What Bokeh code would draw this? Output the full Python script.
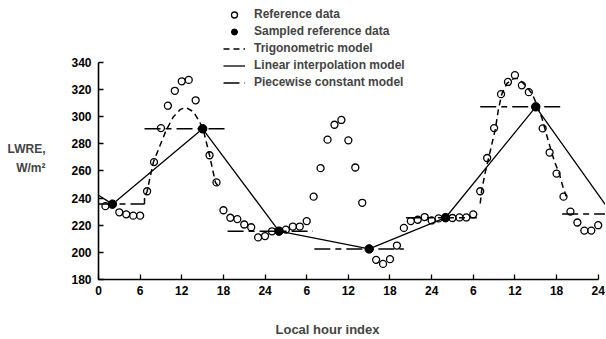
from bokeh.plotting import figure
from bokeh.models import Range1d, FixedTicker, Legend, LegendItem, Title
from bokeh.embed import file_html
from bokeh.resources import INLINE

# ---------------- data ----------------
# Reference data, one value per local hour over three days (hour index 1..72)
ref_hour = list(range(1, 73))
ref_lwre = [234, 235.5, 229.5, 228, 227, 227, 245, 266.5, 291.5, 308, 319, 326,
            327, 312, 291, 271.5, 251.5, 231, 225.5, 224.5, 220.5, 218.5, 211, 212,
            215.5, 215.6, 216.7, 219, 219, 223, 241, 262, 283, 294, 297.5, 282.5,
            262.5, 236.5, 202.5, 194.5, 191.5, 195, 205, 218, 223, 224, 226, 223.5,
            225, 225.7, 225.3, 225.7, 225.7, 228, 245, 269.5, 291.5, 316.5, 325.5, 330.5,
            323, 318, 307.2, 291.3, 273.5, 258, 241, 230, 222, 216, 216, 220]

# Sampled reference data
sample_hour = [2, 15, 26, 39, 50, 63]
sample_lwre = [235.5, 291, 215.6, 202.5, 225.5, 307.2]

# Trigonometric model (day-time parts, day 1 and day 3)
trig1_hour = [6.63, 6.63, 7.0, 7.45, 7.93, 9.75, 10.8, 11.8, 12.6, 13.7, 14.55, 15.05,
              16.0, 16.85, 17.5]
trig1_lwre = [235.6, 241, 244.8, 255.8, 266.8, 290, 299.9, 305.3, 306.7, 303.5, 296.2, 291.3,
              271.5, 251.4, 247.3]
trig3_hour = [55.0, 55.2, 55.7, 56.2, 56.7, 57.2, 57.6, 58.1, 58.85, 59.8, 60.5, 61.5,
              62.45, 63.3, 63.9, 64.3, 64.85, 65.3, 65.8, 66.4, 66.9, 67.4]
trig3_lwre = [236, 245.3, 258.3, 269.3, 280.3, 291.3, 304.8, 316.5, 324.4, 328, 328, 323,
              317, 307.2, 298.7, 291.3, 281.5, 273.4, 265.6, 257.8, 248.5, 241.2]

# Linear interpolation model: start value, samples, next sample (beyond the axis)
lin_start = (0, 242)
lin_next = (74, 228.2)
lin_hour = [lin_start[0]] + sample_hour + [lin_next[0]]
lin_lwre = [lin_start[1]] + sample_lwre + [lin_next[1]]

# Piecewise constant model
pc_start = [0, 6.63, 18.6, 31.1, 44.3, 55.0, 66.8]
pc_end = [6.63, 18.4, 30.9, 44.0, 54.5, 66.8, 74.0]
pc_lwre = [235.7, 291, 215.5, 202.5, 225.5, 307.2, 228.2]

# Axes
x_ticks = [0, 6, 12, 18, 24, 30, 36, 42, 48, 54, 60, 66, 72]
x_labels = ["0", "6", "12", "18", "24", "6", "12", "18", "24", "6", "12", "18", "24"]
y_ticks = [180, 200, 220, 240, 260, 280, 300, 320, 340]

FONT = "Liberation Sans"

# ---------------- figure ----------------
p = figure(width=605, height=338, output_backend="svg", toolbar_location=None,
           x_range=Range1d(0, 73.05), y_range=Range1d(180, 385.5),
           min_border_left=98, min_border_right=0, min_border_top=0,
           min_border_bottom=58)
p.outline_line_color = None
p.grid.visible = False
p.background_fill_color = "white"
p.border_fill_color = "white"

for ax in (p.xaxis[0], p.yaxis[0]):
    ax.axis_line_color = "black"
    ax.axis_line_width = 1.6
    ax.major_tick_in = 5
    ax.major_tick_out = 0
    ax.major_tick_line_width = 1.3
    ax.minor_tick_line_color = None
    ax.major_label_text_font = FONT
    ax.major_label_text_font_style = "bold"
    ax.major_label_text_font_size = "12px"
    ax.major_label_text_color = "black"

p.xaxis.ticker = FixedTicker(ticks=x_ticks)
p.xaxis.major_label_overrides = {t: s for t, s in zip(x_ticks, x_labels)}
p.xaxis.bounds = (x_ticks[0], x_ticks[-1])
p.xaxis.major_label_standoff = 6

p.yaxis.ticker = FixedTicker(ticks=y_ticks)
p.yaxis.bounds = (y_ticks[0], y_ticks[-1])
p.yaxis.major_label_standoff = 7

# y-axis title, horizontal, two lines (blank lines shift it below the frame centre)
p.yaxis.axis_label = "\n\n\nLWRE,\nW/m\u00b2\n"
p.yaxis.axis_label_orientation = "horizontal"
p.yaxis.axis_label_standoff = 23
p.yaxis.axis_label_text_font = FONT
p.yaxis.axis_label_text_font_style = "bold"
p.yaxis.axis_label_text_font_size = "12px"
p.yaxis.axis_label_text_align = "center"
p.yaxis.axis_label_text_line_height = 1.35

# ---------------- marks ----------------
r_pc = p.segment(x0=pc_start, y0=pc_lwre, x1=pc_end, y1=pc_lwre,
                 line_color="black", line_width=1.5, line_dash="16 5 6 5")
r_trig = p.multi_line(xs=[trig1_hour, trig3_hour], ys=[trig1_lwre, trig3_lwre],
                      line_color="black", line_width=1.5, line_dash="6 4")
r_lin = p.line(lin_hour, lin_lwre, line_color="black", line_width=1.3)
r_ref = p.scatter(ref_hour, ref_lwre, marker="circle", size=7, fill_color=None,
                  line_color="black", line_width=1.3)
r_smp = p.scatter(sample_hour, sample_lwre, marker="circle", size=8.5,
                  fill_color="black", line_color="black")

legend = Legend(items=[
    LegendItem(label="Reference data", renderers=[r_ref]),
    LegendItem(label="Sampled reference data", renderers=[r_smp]),
    LegendItem(label="Trigonometric model", renderers=[r_trig]),
    LegendItem(label="Linear interpolation model", renderers=[r_lin]),
    LegendItem(label="Piecewise constant model", renderers=[r_pc]),
], location=(125, 189.5))
legend.background_fill_alpha = 0
legend.border_line_alpha = 0
legend.padding = 0
legend.margin = 0
legend.spacing = 2
legend.glyph_width = 22
legend.glyph_height = 15
legend.label_height = 15
legend.label_standoff = 9
legend.label_text_font = FONT
legend.label_text_font_style = "bold"
legend.label_text_font_size = "12px"
p.add_layout(legend)

# x-axis title: a thin spacer panel, then the title shifted to the left like the reference
p.add_layout(Title(text=" ", text_font_size="2px", standoff=16), "below")
p.add_layout(Title(text="Local hour index", align="left", offset=177, standoff=4,
                   text_font=FONT, text_font_style="bold", text_font_size="13px"),
             "below")

open("out.html", "w").write(file_html(p, INLINE))
